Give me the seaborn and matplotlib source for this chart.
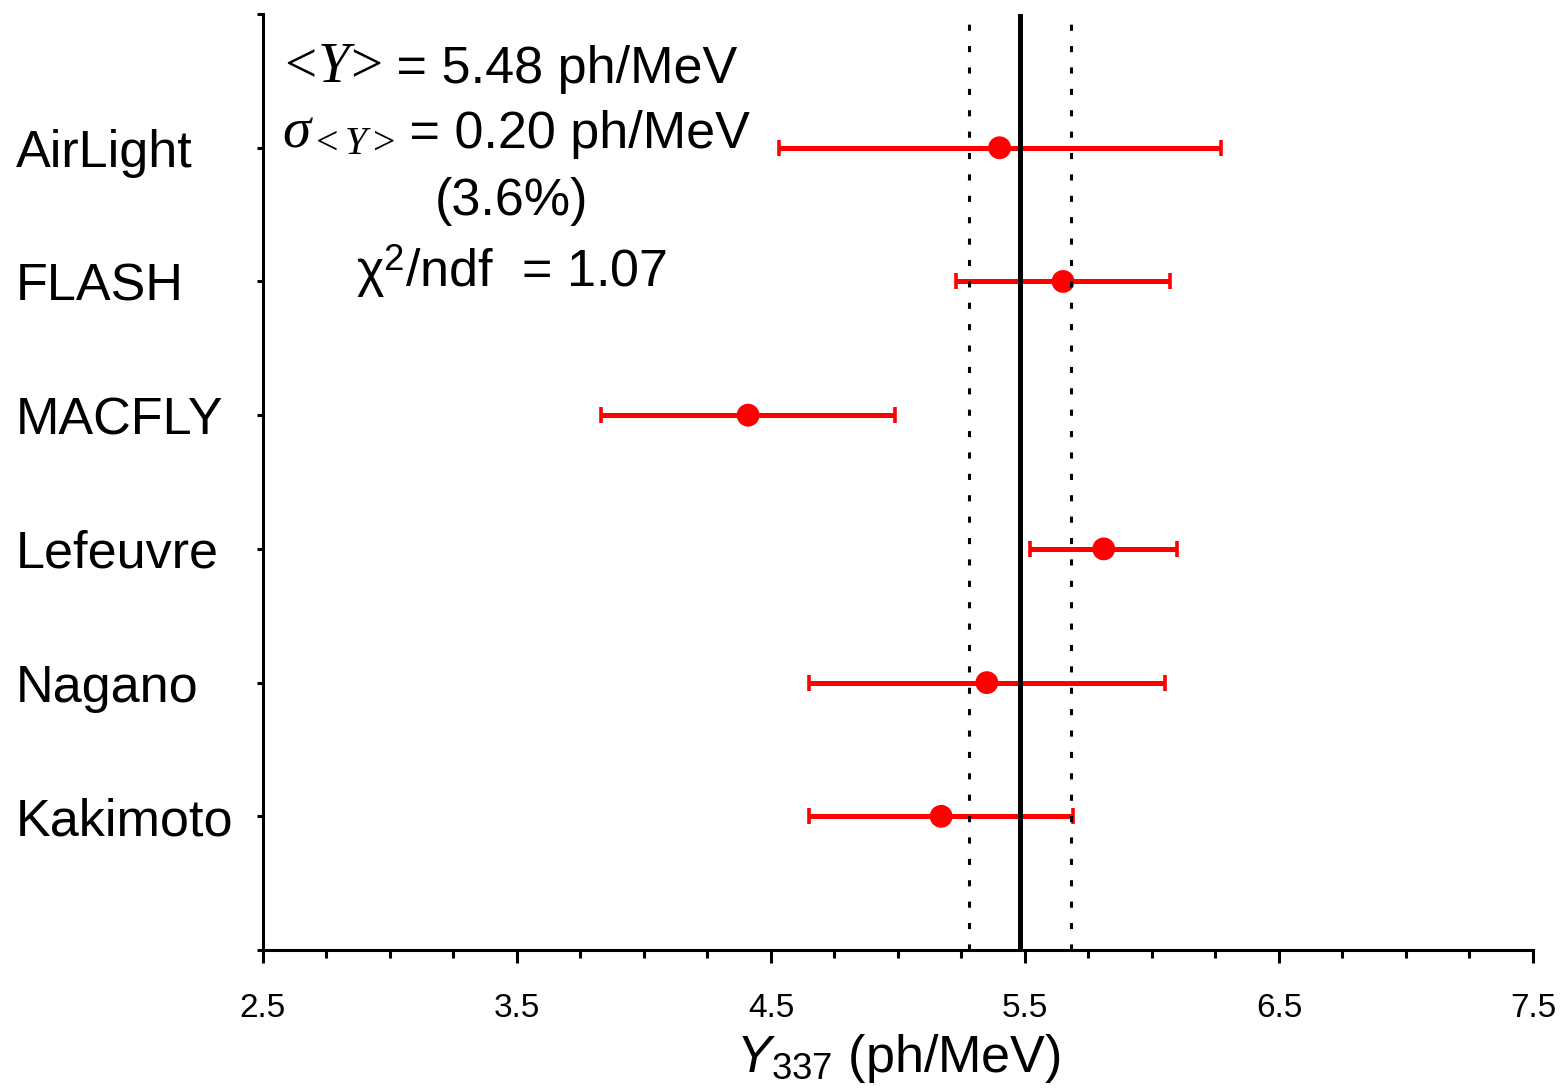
import pandas as pd
import matplotlib
matplotlib.use("Agg")
import matplotlib.pyplot as plt
import seaborn as sns

# measurements of the 337 nm fluorescence yield
experiments = ["AirLight", "FLASH", "MACFLY", "Lefeuvre", "Nagano", "Kakimoto"]
positions = [6, 5, 4, 3, 2, 1]
yields = [5.40, 5.65, 4.41, 5.81, 5.35, 5.17]
errors = [0.87, 0.42, 0.58, 0.29, 0.70, 0.52]

mean_yield = 5.48
sigma_mean = 0.20

df = pd.DataFrame({"experiment": experiments, "pos": positions,
                   "Y": yields, "err": errors})

sns.set_style("ticks")
plt.rcParams["font.family"] = ["Liberation Sans", "DejaVu Sans"]
plt.rcParams["mathtext.fontset"] = "custom"
plt.rcParams["mathtext.rm"] = "Liberation Serif"
plt.rcParams["mathtext.it"] = "Liberation Serif:italic"
plt.rcParams["mathtext.sf"] = "Liberation Sans"
plt.rcParams["mathtext.bf"] = "Liberation Sans:italic"
for key in ["text.color", "axes.labelcolor", "xtick.color", "ytick.color", "axes.edgecolor"]:
    plt.rcParams[key] = "black"

fig = plt.figure(figsize=(15.67, 10.88), dpi=100)
ax = fig.add_axes([0.1678, 0.1268, 0.8105, 0.8603])

# error bars and points
ax.errorbar(df["Y"], df["pos"], xerr=df["err"], fmt="none", ecolor="red",
            elinewidth=3.6, capsize=5.5, capthick=2.6, zorder=2)
sns.scatterplot(data=df, x="Y", y="pos", color="red", s=270,
                edgecolor="none", zorder=3, ax=ax)

# weighted mean and its uncertainty
ax.axvline(mean_yield, color="black", lw=3.6, zorder=4)
for v in [mean_yield - sigma_mean, mean_yield + sigma_mean]:
    ax.axvline(v, color="black", lw=2.2, linestyle=(0, (2.0, 5.0)), zorder=4)

ax.set_xlim(2.5, 7.5)
ax.set_ylim(0, 7)
ax.set_xticks([2.5, 3.5, 4.5, 5.5, 6.5, 7.5])
ax.set_xticks([2.5 + 0.25 * i for i in range(21)], minor=True)
ax.set_yticks(range(0, 8))
ax.set_yticklabels([""] + experiments[::-1] + [""])

for s in ["top", "right"]:
    ax.spines[s].set_visible(False)
for s in ["left", "bottom"]:
    ax.spines[s].set_linewidth(2.2)

ax.tick_params(axis="x", which="major", length=9, width=2.2, labelsize=24, pad=22)
ax.tick_params(axis="x", which="minor", length=6, width=2.2)
ax.tick_params(axis="y", which="major", length=4, width=2.2, labelsize=37.5, pad=174)
for lab in ax.get_yticklabels():
    lab.set_horizontalalignment("left")

ax.set_xlabel(r"$\mathbf{Y}_{\mathsf{337}}$ (ph/MeV)", fontsize=37.5, labelpad=6)
ax.set_ylabel("")

# fit summary: math symbols a bit larger than the sans text that follows
t1 = ax.text(2.55, 6.49, r"$<\!Y\!>$", fontsize=41, ha="left", va="baseline")
ax.annotate(" = 5.48 ph/MeV", xy=(1, 0), xycoords=t1, fontsize=37.5,
            ha="left", va="bottom")
t2 = ax.text(2.575, 6.005, r"$\sigma_{<Y>}$", fontsize=41, ha="left", va="baseline")
ax.annotate(" = 0.20 ph/MeV", xy=(1, 0), xycoords=t2, fontsize=37.5,
            ha="left", va="bottom")
ax.text(3.48, 5.497, "(3.6%)", fontsize=37.5, ha="center", va="baseline")
ax.text(3.48, 4.96, "χ$^{\\mathsf{2}}$/ndf  = 1.07", fontsize=37.5, ha="center", va="baseline")

fig.savefig("out.png", dpi=100)
